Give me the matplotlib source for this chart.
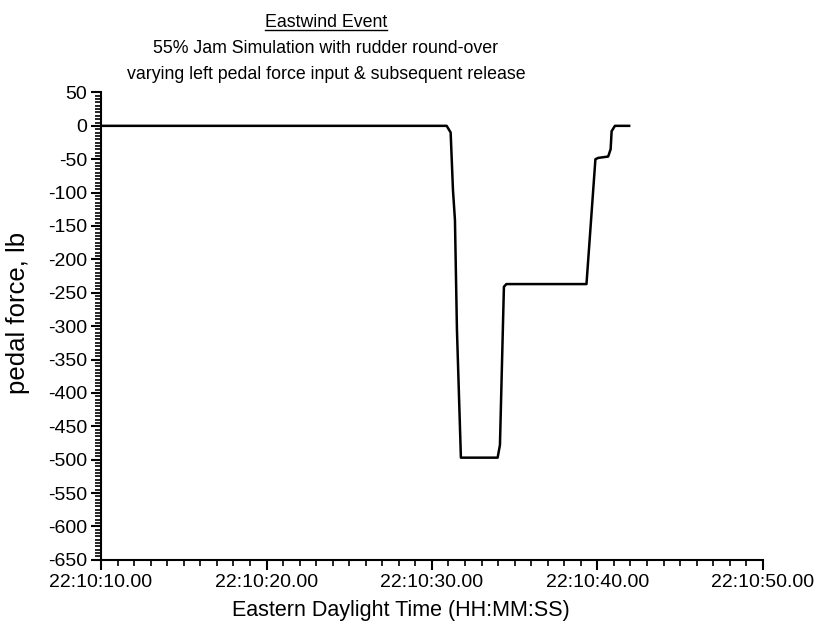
import matplotlib
matplotlib.use('Agg')
import matplotlib.pyplot as plt
from matplotlib import ticker
from matplotlib.lines import Line2D

plt.rcParams['font.family'] = ['Liberation Sans', 'DejaVu Sans']
plt.rcParams['axes.unicode_minus'] = False

# Data: seconds after 22:10:00, pedal force (lb)
t_sec = [10.0, 30.89, 31.13, 31.27, 31.39, 31.51, 31.75, 33.97, 34.11, 34.35,
         34.5, 39.34, 39.88, 40.05, 40.65, 40.80, 40.86, 41.06, 41.92]
force = [0, 0, -10, -96, -141, -305, -497, -497, -478, -241,
         -237, -237, -50, -48, -46, -35, -8, 0, 0]

x_ticks = [10, 20, 30, 40, 50]
x_ticklabels = ['22:10:10.00', '22:10:20.00', '22:10:30.00', '22:10:40.00', '22:10:50.00']

fig = plt.figure(figsize=(8.15, 6.29), dpi=100)
ax = fig.add_axes([0.124, 0.110, 0.812, 0.743])

ax.plot(t_sec, force, color='black', linewidth=1.8)

ax.set_xlim(10, 50)
ax.set_ylim(-650, 50)
ax.spines['top'].set_visible(False)
ax.spines['right'].set_visible(False)
ax.spines['left'].set_linewidth(1.5)
ax.spines['bottom'].set_linewidth(1.5)

ax.set_xticks(x_ticks)
ax.set_xticklabels(x_ticklabels)
ax.xaxis.set_minor_locator(ticker.MultipleLocator(1))
ax.yaxis.set_major_locator(ticker.MultipleLocator(50))
ax.yaxis.set_minor_locator(ticker.MultipleLocator(5))
ax.tick_params(which='major', direction='out', length=7, width=1.5, labelsize=14, pad=3)
ax.tick_params(which='minor', direction='out', length=4, width=1.2)

ax.set_xlabel('Eastern Daylight Time (HH:MM:SS)', fontsize=15.5)
ax.xaxis.set_label_coords(0.453, -0.085)
ax.set_ylabel('pedal force, lb', fontsize=18.5)
ax.yaxis.set_label_coords(-0.108, 0.528)

t1 = fig.text(0.40, 0.957, 'Eastwind Event', ha='center', va='baseline', fontsize=12.8)
fig.text(0.40, 0.916, '55% Jam Simulation with rudder round-over', ha='center', va='baseline', fontsize=12.8)
fig.text(0.40, 0.875, 'varying left pedal force input & subsequent release', ha='center', va='baseline', fontsize=12.8)

# underline the first title line
fig.canvas.draw()
bb = t1.get_window_extent().transformed(fig.transFigure.inverted())
fig.add_artist(Line2D([bb.x0, bb.x1], [0.953, 0.953], color='black', linewidth=1.0,
                      transform=fig.transFigure))

fig.savefig('out.png', dpi=100)
